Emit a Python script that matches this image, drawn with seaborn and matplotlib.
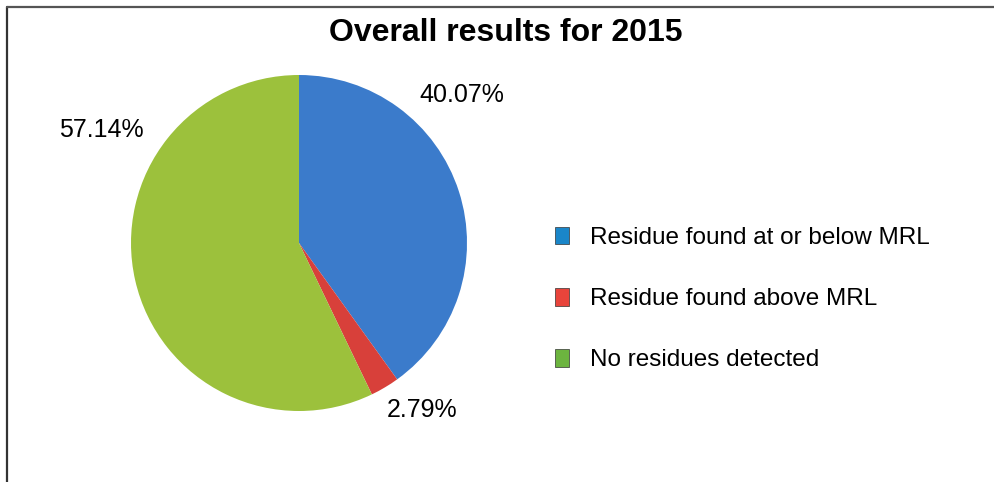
import matplotlib
matplotlib.use("Agg")
import matplotlib.pyplot as plt
from matplotlib.patches import Patch
from matplotlib.lines import Line2D
import seaborn as sns

# Datos
categories = ["Residue found at or below MRL", "Residue found above MRL", "No residues detected"]
values = [40.07, 2.79, 57.14]
labels = ["40.07%", "2.79%", "57.14%"]
pie_colors = ["#3b7bcb", "#d8403a", "#9cc13c"]
legend_colors = ["#1a86c9", "#e8443b", "#6cb43f"]

sns.set_theme(style="white")
plt.rcParams["font.family"] = ["Liberation Sans", "DejaVu Sans"]
plt.rcParams["text.color"] = "black"

fig = plt.figure(figsize=(9.95, 4.82), dpi=100)
W, H = 995, 482

# Marco (solo arriba e izquierda)
fig.add_artist(Line2D([7 / W, 7 / W], [0, 1 - 7 / H], transform=fig.transFigure,
                      color="#333333", linewidth=1.6))
fig.add_artist(Line2D([7 / W, 1], [1 - 7 / H, 1 - 7 / H], transform=fig.transFigure,
                      color="#555555", linewidth=1.6))

fig.text(506 / W, 1 - 33 / H, "Overall results for 2015", ha="center", va="center",
         fontsize=23, fontweight="bold", color="black")

cx, cy, r = 299, 243, 168
ax = fig.add_axes([(cx - r) / W, 1 - (cy + r) / H, 2 * r / W, 2 * r / H])
wedges, _ = ax.pie(values, colors=pie_colors, startangle=90, counterclock=False,
                   radius=1, wedgeprops=dict(edgecolor="none"))
ax.set_xlim(-1, 1)
ax.set_ylim(-1, 1)
ax.set_aspect("auto")
ax.axis("off")

# Etiquetas de porcentaje
label_pos = [(462, 95), (422, 410), (101, 130)]
for (x, y), txt in zip(label_pos, labels):
    fig.text(x / W, 1 - y / H, txt, ha="center", va="center", fontsize=18, color="black")

handles = [Patch(facecolor=c, edgecolor="#333333", linewidth=0.5) for c in legend_colors]
leg = fig.legend(handles, categories, loc="center left", bbox_to_anchor=(533 / W, 1 - 299 / H),
                 frameon=False, fontsize=17.5, handlelength=0.6, handleheight=0.75,
                 handletextpad=0.85, labelspacing=1.6)
for t in leg.get_texts():
    t.set_color("black")

plt.savefig("out.png", dpi=100)
